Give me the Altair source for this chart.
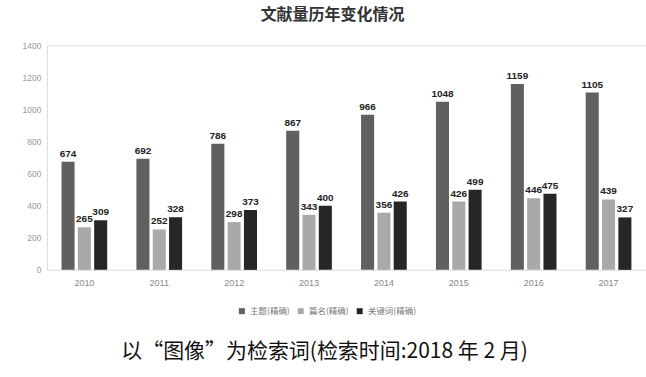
import altair as alt
import pandas as pd

years = ["2010", "2011", "2012", "2013", "2014", "2015", "2016", "2017"]
series_names = ["主题(精确)", "篇名(精确)", "关键词(精确)"]
s_main = [674, 692, 786, 867, 966, 1048, 1159, 1105]
s_title = [265, 252, 298, 343, 356, 426, 446, 439]
s_kw = [309, 328, 373, 400, 426, 499, 475, 327]
colors = ["#606060", "#a9a9a9", "#262626"]
y_ticks = [0, 200, 400, 600, 800, 1000, 1200, 1400]
chart_title = "文献量历年变化情况"
caption = "以“图像”为检索词(检索时间:2018 年 2 月)"

rows = []
for name, vals in zip(series_names, [s_main, s_title, s_kw]):
    for y, v in zip(years, vals):
        rows.append({"year": y, "series": name, "value": v})
df = pd.DataFrame(rows)

x_enc = alt.X("year:N", sort=years,
              scale=alt.Scale(paddingInner=0.39, paddingOuter=0.195),
              axis=alt.Axis(title=None, labelAngle=0, labelFontSize=9, labelColor="#888888",
                            labelFont="Liberation Sans", ticks=False, domain=True,
                            domainColor="#e6e6e6", labelPadding=9))
xo_enc = alt.XOffset("series:N", sort=series_names,
                     scale=alt.Scale(paddingInner=0.2, paddingOuter=0))
y_enc = alt.Y("value:Q", scale=alt.Scale(domain=[0, 1400]),
              axis=alt.Axis(title=None, values=y_ticks, format="d", grid=False, domain=False,
                            ticks=False, labelFontSize=8.5, labelColor="#999999",
                            labelFont="Liberation Sans", labelPadding=6))

base = alt.Chart(df)

bars = base.mark_bar().encode(
    x=x_enc, xOffset=xo_enc, y=y_enc,
    color=alt.Color("series:N", sort=series_names,
                    scale=alt.Scale(domain=series_names, range=colors),
                    legend=alt.Legend(title=None, orient="none", direction="horizontal",
                                      legendX=191, legendY=262, symbolType="square",
                                      symbolSize=36, labelFontSize=8.5, labelColor="#777777",
                                      columnPadding=6, symbolStrokeWidth=0,
                                      labelFont="Noto Sans CJK SC")),
)

labels = base.mark_text(dy=-8, fontSize=10, fontWeight="bold", color="#222222",
                        font="Liberation Sans").encode(
    x=x_enc, xOffset=xo_enc, y=y_enc, text="value:Q")

cap = alt.Chart(pd.DataFrame({"t": [caption]})).mark_text(
    fontSize=21, font="Noto Sans CJK SC", color="#111111",
    align="center", baseline="middle").encode(
    x=alt.value(278), y=alt.value(307), text="t:N")

chart = alt.layer(bars, labels, cap).properties(
    width=600, height=225,
    title=alt.TitleParams(chart_title, fontSize=16, fontWeight="bold", color="#333333",
                          font="Noto Sans CJK SC", anchor="middle", dx=-14, offset=18),
    autosize=alt.AutoSizeParams(type="none"),
    padding={"left": 47, "top": 45, "right": 0, "bottom": 107},
).configure_view(stroke=None).configure(background="white")

chart.save("out.html", embed_options={"renderer": "svg", "actions": False})
